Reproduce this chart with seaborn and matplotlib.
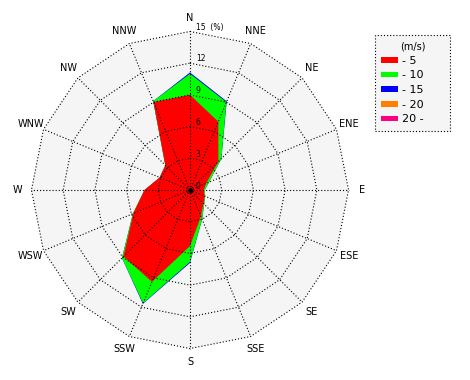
import numpy as np
import matplotlib
matplotlib.use("Agg")
from matplotlib import pyplot as plt
from matplotlib.patches import Patch
import seaborn as sns


directions = ["N", "NNE", "NE", "ENE", "E", "ESE", "SE", "SSE",
              "S", "SSW", "SW", "WSW", "W", "WNW", "NW", "NNW"]
speed_labels = ["- 5", "- 10", "- 15", "- 20", "20 -"]

# frequency (%) of each speed class per direction
speed_0_5 = [9.0, 7.0, 3.8, 1.65, 1.3, 1.5, 1.8, 2.7, 5.3, 9.4, 8.9, 5.8, 4.3, 3.1, 3.3, 9.0]
speed_5_10 = [2.0, 2.0, 0.4, 0.3, 0.1, 0.05, 0.1, 0.3, 1.5, 2.2, 0.2, 0.05, 0.0, 0.0, 0.0, 0.1]
speed_10_15 = [0.12, 0.08, 0.0, 0.0, 0.0, 0.0, 0.0, 0.0, 0.1, 0.06, 0.0, 0.0, 0.0, 0.0, 0.0, 0.0]
speed_15_20 = [0.0] * 16
speed_20_up = [0.0] * 16

ring_values = [3, 6, 9, 12, 15]
colors = ["#ff0000", "#00ff00", "#0000ff", "#ff8000", "#ff0080"]


def polar_xy(r, theta):
    return r * np.sin(theta), r * np.cos(theta)


def main():
    sns.set_theme(style="white")
    plt.rcParams["font.family"] = ["DejaVu Sans"]
    plt.rcParams["text.color"] = "black"

    fig = plt.figure(figsize=(4.7, 3.8), dpi=100)
    ax = fig.add_axes([0, 0, 1, 1])
    px = 10.57  # pixels per percent
    ax.set_xlim(-190 / px, 280 / px)
    ax.set_ylim(-190 / px, 190 / px)
    ax.axis("off")

    theta = np.deg2rad(np.arange(len(directions)) * 22.5)
    rmax = ring_values[-1]
    dotted = (0, (1, 1.8))

    # background disc
    bx, by = polar_xy(np.full(len(theta), rmax), theta)
    ax.fill(bx, by, color="#f5f5f5", zorder=0, lw=0)

    # stacked bands, outermost first
    bands = np.vstack([speed_0_5, speed_5_10, speed_10_15, speed_15_20, speed_20_up])
    cum = np.cumsum(bands, axis=0)
    for i in range(len(bands) - 1, -1, -1):
        if bands[i].sum() == 0:
            continue
        x, y = polar_xy(cum[i], theta)
        ax.fill(x, y, color=colors[i], lw=0, zorder=1 + (len(bands) - i))

    # grid rings and spokes
    for r in ring_values:
        x, y = polar_xy(np.full(len(theta) + 1, r), np.append(theta, theta[0]))
        ax.plot(x, y, color="black", lw=0.8, ls=dotted, zorder=10)
    for t in theta:
        x, y = polar_xy(np.array([0, rmax]), np.array([t, t]))
        ax.plot(x, y, color="black", lw=0.8, ls=dotted, zorder=10)
    ax.plot([0], [0], "o", color="black", ms=2.5, zorder=11)

    # ring labels
    ax.text(0.55, 0.3, "0", fontsize=5.5, ha="left", va="center", zorder=12)
    for r in ring_values:
        label = f"{r}  (%)" if r == rmax else str(r)
        ax.text(0.55, r + 0.4, label, fontsize=5.5, ha="left", va="center", zorder=12)

    # direction labels
    for name, t in zip(directions, theta):
        x, y = polar_xy(16.3, t)
        ax.text(x, y, name, fontsize=7, ha="center", va="center")

    handles = [Patch(facecolor=c, edgecolor="none") for c in colors]
    leg = fig.legend(handles, speed_labels, title="(m/s)", loc="upper left",
                     bbox_to_anchor=(375 / 470, 1 - 131 / 380, 75 / 470, 96 / 380),
                     mode="expand", frameon=True,
                     fancybox=False, edgecolor="black", facecolor="#f5f5f5",
                     framealpha=1, fontsize=8, title_fontsize=7,
                     handlelength=1.5, handleheight=0.45, labelspacing=0.42,
                     borderpad=0.55, handletextpad=0.4, borderaxespad=0)
    leg.get_frame().set_linestyle(dotted)
    leg.get_frame().set_linewidth(0.8)

    fig.savefig("out.png", dpi=100)


if __name__ == "__main__":
    main()
